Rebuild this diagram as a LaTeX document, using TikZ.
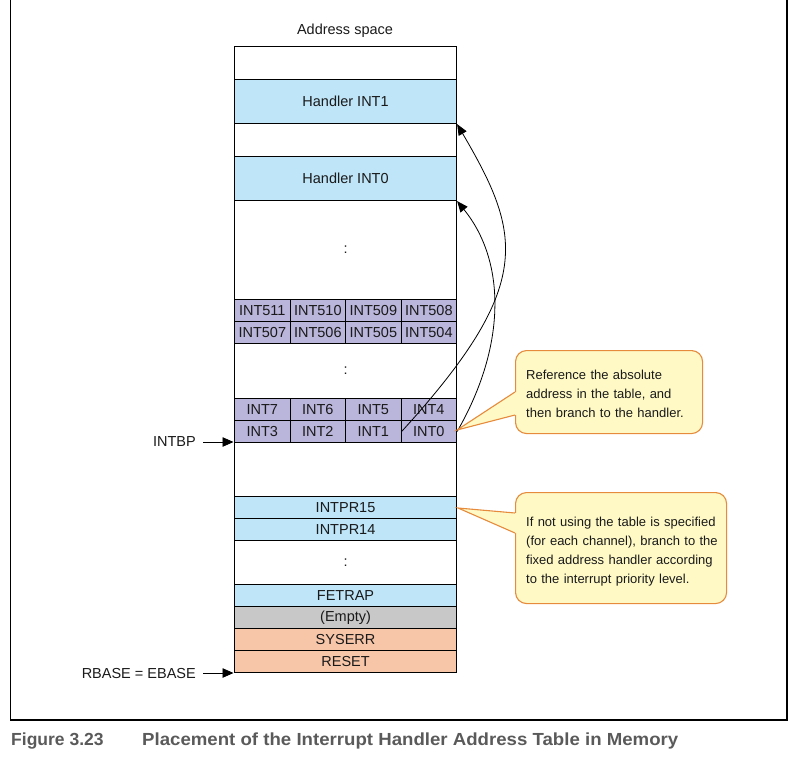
\documentclass[tikz,border=0pt]{standalone}
\usepackage{fontspec}
\setmainfont{Liberation Sans}
\newfontfamily\capwide[FakeStretch=1.065]{Liberation Sans}
\usetikzlibrary{arrows.meta}
\definecolor{hblue}{HTML}{BEE5F8}
\definecolor{hpurple}{HTML}{BAB5DB}
\definecolor{hgray}{HTML}{C8C8C8}
\definecolor{hsalmon}{HTML}{F7C6A9}
\definecolor{cyellow}{HTML}{FFF9C6}
\definecolor{corange}{HTML}{E68A3C}
\definecolor{txt}{HTML}{1A1A1A}
\definecolor{capgray}{HTML}{5A5A5A}
\newcommand{\fmain}{\fontsize{14.5}{17}\selectfont}
\newcommand{\fsmall}{\fontsize{13}{18.9}\selectfont}
\newcommand{\fcap}{\fontsize{17.5}{20}\selectfont\bfseries}
\tikzset{
  row/.style={draw=black, line width=1.1pt, minimum width=222pt, inner sep=0pt, anchor=north west, font=\fmain, text=txt},
  cell/.style={draw=black, line width=1.1pt, fill=hpurple, minimum width=55.5pt, minimum height=22pt, inner sep=0pt, anchor=north west, font=\fmain, text=txt},
  curve/.style={line width=0.8pt, -{Triangle[length=11pt,width=9pt]}},
  ptr/.style={line width=0.8pt, -{Triangle[length=11pt,width=9.5pt]}},
  callbox/.style={draw=corange, fill=cyellow, rounded corners=11pt, line width=1.1pt, inner sep=0pt, anchor=north west},
  calltext/.style={align=left, text width=205pt, inner sep=0pt, anchor=west, font=\fsmall, text=txt},
  callptr/.style={draw=corange, line width=1.1pt},
  lbl/.style={font=\fmain, text=txt, anchor=east, inner sep=0pt}
}
\begin{document}
\begin{tikzpicture}[x=1pt,y=1pt]
\useasboundingbox (0,0) rectangle (799,-762);
\draw[line width=1.2pt] (10.5,5) -- (10.5,-720) -- (787,-720) -- (787,5);
\node[font=\fmain, text=txt] (title) at (345,-30.5) {Address space};
% rows
\node[row, minimum height=33pt] (r0) at (234,-46) {};
\node[row, fill=hblue, minimum height=44pt] (h1) at (234,-79) {Handler INT1};
\node[row, minimum height=33pt] (r1) at (234,-123) {};
\node[row, fill=hblue, minimum height=44pt] (h0) at (234,-156) {Handler INT0};
\node[row, minimum height=99pt] (r2) at (234,-200) {:};
\node[cell] (i511) at (234,-299) {INT511};
\node[cell] (i510) at (289.5,-299) {INT510};
\node[cell] (i509) at (345,-299) {INT509};
\node[cell] (i508) at (400.5,-299) {INT508};
\node[cell] (i507) at (234,-321) {INT507};
\node[cell] (i506) at (289.5,-321) {INT506};
\node[cell] (i505) at (345,-321) {INT505};
\node[cell] (i504) at (400.5,-321) {INT504};
\node[row, minimum height=55pt] (r3) at (234,-343) {:};
\node[cell] (i7) at (234,-398) {INT7};
\node[cell] (i6) at (289.5,-398) {INT6};
\node[cell] (i5) at (345,-398) {INT5};
\node[cell] (i4) at (400.5,-398) {INT4};
\node[cell] (i3) at (234,-420) {INT3};
\node[cell] (i2) at (289.5,-420) {INT2};
\node[cell] (i1) at (345,-420) {INT1};
\node[cell] (i0) at (400.5,-420) {INT0};
\node[row, minimum height=54pt] (r4) at (234,-442) {};
\node[row, fill=hblue, minimum height=22pt] (p15) at (234,-496) {INTPR15};
\node[row, fill=hblue, minimum height=22pt] (p14) at (234,-518) {INTPR14};
\node[row, minimum height=44pt] (r5) at (234,-540) {:};
\node[row, fill=hblue, minimum height=22pt] (fetrap) at (234,-584) {FETRAP};
\node[row, fill=hgray, minimum height=22pt] (empty) at (234,-606) {(Empty)};
\node[row, fill=hsalmon, minimum height=22pt] (syserr) at (234,-628) {SYSERR};
\node[row, fill=hsalmon, minimum height=22pt] (reset) at (234,-650) {RESET};
% curves
\draw[curve] (i1.east) .. controls (535,-285) and (522,-235) .. (h1.south east);
\draw[curve] (i0.east) .. controls (507.6,-343.8) and (505.1,-260.1) .. (h0.south east);
% left pointers
\node[lbl] (lintbp) at (196,-442) {INTBP};
\coordinate (cintbp) at (233.5,-442);
\draw[ptr, shorten <=7pt] (lintbp.east) -- (cintbp);
\node[lbl] (lrbase) at (196,-673) {RBASE = EBASE};
\coordinate (crbase) at (233.5,-673);
\draw[ptr, shorten <=7pt] (lrbase.east) -- (crbase);
% callout 1
\node[callbox, minimum width=187pt, minimum height=83pt] (c1) at (515,-350) {};
\node[calltext] (c1t) at (526,-393.5) {Reference the absolute\\address in the table, and\\then branch to the handler.};
\coordinate (c1tip) at (457,-430);
\fill[cyellow] (c1tip) -- (515,-392) -- (518,-392) -- (518,-415) -- (515,-415) -- cycle;
\draw[callptr] (515,-392) -- (c1tip) -- (515,-415);
% callout 2
\node[callbox, minimum width=211pt, minimum height=111pt] (c2) at (515,-492) {};
\node[calltext] (c2t) at (526,-551.5) {If not using the table is specified\\(for each channel), branch to the\\fixed address handler according\\to the interrupt priority level.};
\coordinate (c2tip) at (458,-508);
\fill[cyellow] (c2tip) -- (515,-513) -- (518,-513) -- (518,-533) -- (515,-533) -- cycle;
\draw[callptr] (515,-513) -- (c2tip) -- (515,-533);
% caption
\node[anchor=base west, inner sep=0pt, font=\fcap, text=capgray] (fig) at (11,-745) {Figure 3.23};
\node[anchor=base west, inner sep=0pt, font=\fcap\capwide, text=capgray] (cap) at (142,-745) {Placement of the Interrupt Handler Address Table in Memory};
\end{tikzpicture}
\end{document}
